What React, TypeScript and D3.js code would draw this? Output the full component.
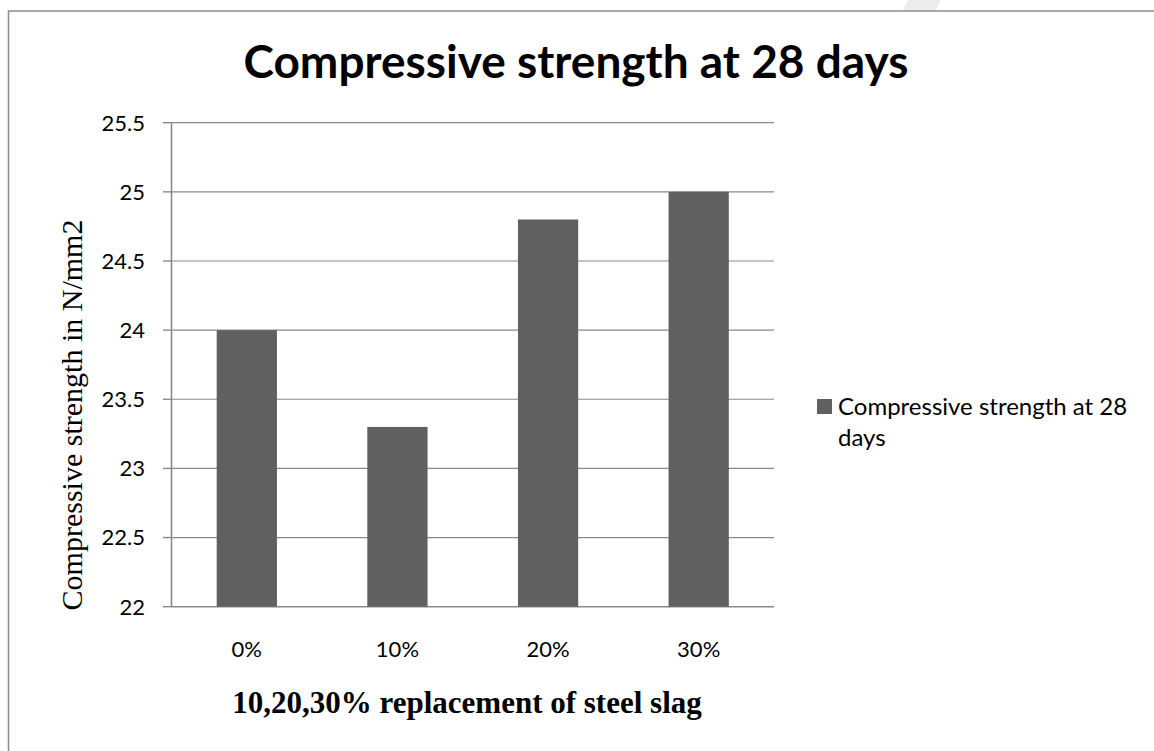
import React from 'react';
import { scaleBand, scaleLinear } from 'd3';

const categories = ['0%', '10%', '20%', '30%'];
const strength = [24, 23.3, 24.8, 25];
const yTicks = [22, 22.5, 23, 23.5, 24, 24.5, 25, 25.5];
const seriesName = 'Compressive strength at 28 days';
const legendLines = ['Compressive strength at 28', 'days'];

const W = 1154;
const H = 751;
const plot = { left: 171.5, right: 774, top: 122.7, bottom: 606.7 };

const App = () => {
  const x = scaleBand()
    .domain(categories)
    .range([plot.left, plot.right])
    .paddingInner(0.6)
    .paddingOuter(0.3);

  const y = scaleLinear()
    .domain([22, 25.5])
    .range([plot.bottom, plot.top]);

  const sans = 'Lato, Carlito, Calibri, sans-serif';
  const serif = '"Liberation Serif", "Times New Roman", serif';

  return (
    <svg width={W} height={H} style={{ position: 'absolute', left: 0, top: 0, background: '#fff' }}>
      {/* chart frame, runs off the right and bottom of the page */}
      <rect x={8.5} y={11} width={W + 20} height={H + 20} fill="none" stroke="#8c8c8c" strokeWidth={1.5} />
      <polygon points="908,0 941,0 936,10 903,10" fill="#ececec" />

      <text x={576} y={78} textAnchor="middle" fontFamily={sans} fontWeight="bold" fontSize={46} fill="#000">
        {seriesName}
      </text>

      {/* gridlines + y ticks */}
      {yTicks.map(t => (
        <g key={t}>
          <line x1={plot.left} x2={plot.right} y1={y(t)} y2={y(t)} stroke="#8a8a8a" strokeWidth={t === 22 ? 1.6 : 1.2} />
          <line x1={163} x2={plot.left} y1={y(t)} y2={y(t)} stroke="#8a8a8a" strokeWidth={1.4} />
          <text x={145} y={y(t)} dy="0.36em" textAnchor="end" fontFamily={sans} fontSize={22} fill="#000">
            {t}
          </text>
        </g>
      ))}
      <line x1={plot.left} x2={plot.left} y1={plot.top} y2={plot.bottom} stroke="#8a8a8a" strokeWidth={1.6} />

      {/* bars */}
      {strength.map((v, i) => (
        <rect
          key={categories[i]}
          x={x(categories[i])}
          y={y(v)}
          width={x.bandwidth()}
          height={y(22) - y(v)}
          fill="#606060"
        />
      ))}

      {categories.map(c => (
        <text key={c} x={(x(c) as number) + x.bandwidth() / 2} y={657} textAnchor="middle" fontFamily={sans} fontSize={22} fill="#000">
          {c}
        </text>
      ))}

      <text x={467} y={713} textAnchor="middle" fontFamily={serif} fontWeight="bold" fontSize={31} fill="#000">
        10,20,30% replacement of steel slag
      </text>

      <text
        transform="translate(82, 415) rotate(-90)"
        textAnchor="middle"
        fontFamily={serif}
        fontSize={30}
        fill="#000"
      >
        Compressive strength in N/mm2
      </text>

      {/* legend */}
      <rect x={817} y={399} width={15} height={15} fill="#606060" />
      <text fontFamily={sans} fontSize={24} fill="#000">
        {legendLines.map((l, k) => (
          <tspan key={k} x={838} y={415 + k * 31}>{l}</tspan>
        ))}
      </text>
    </svg>
  );
};

export default App;
